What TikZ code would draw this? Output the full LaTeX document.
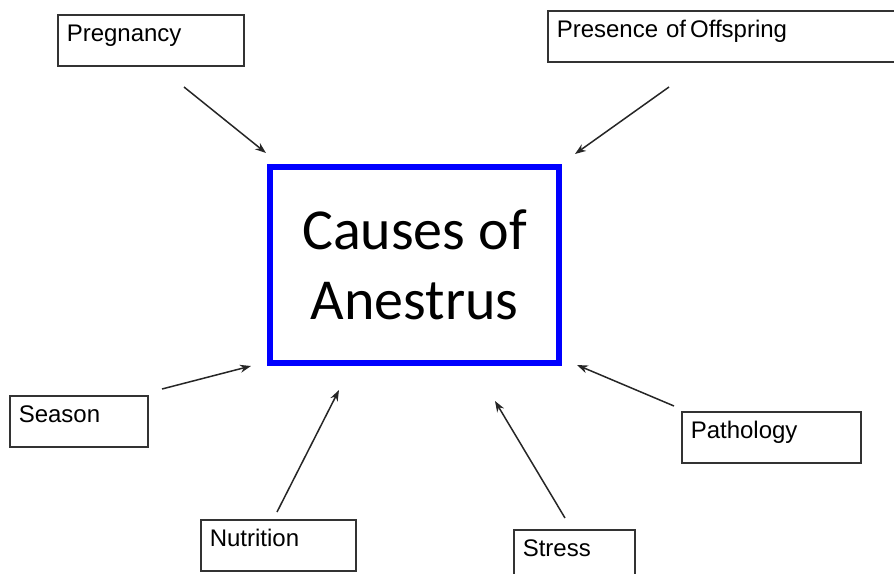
\documentclass[tikz,border=0pt]{standalone}
\usepackage{fontspec}
\setmainfont{Liberation Sans}
\newfontfamily\carlito{Carlito}
\usetikzlibrary{arrows.meta}

\begin{document}
\begin{tikzpicture}
[x=1pt,y=-1pt,
  boxDecorate/.style={draw=black!80,line width=1.5pt,anchor=north west,
    align=left,inner xsep=9pt,inner ysep=10pt,text height=17pt,
    text depth=14pt,font=\fontsize{24}{28}\selectfont},%
  mainDecorate/.style={draw=blue,line width=6pt,minimum width=289pt,
    minimum height=196pt,align=center,
    font=\carlito\fontsize{58}{70}\selectfont},%
  arrowDecorate/.style={-{Stealth[length=11pt,width=8pt]},line width=1.5pt,
    black!85}]
\useasboundingbox (0,0) rectangle (894,573);
\clip (0,0) rectangle (894,573);
%% centre box
\node (anestrus) at (414.5,265) [mainDecorate] {Causes of\\Anestrus};
%% cause boxes
\foreach \nodename/\x/\y/\w/\txt in {
  pregnancy/57/14/168/Pregnancy, offspring/547/10/342/Presence of\hspace{4pt}Offspring,
  season/9/395/120/Season, nutrition/200/519/137/Nutrition,
  stress/513/529/103/Stress, pathology/681/411/161/Pathology}
{
  \node (\nodename) at (\x,\y) [boxDecorate,text width=\w pt] {\txt};
}
%% arrow ends
\foreach \nodename/\xa/\ya/\xb/\yb in {
  pregnancy/184/87/266/153, offspring/669/87/575/154,
  season/162/389/251/366, nutrition/277/512/339/390,
  stress/565/518/495/401, pathology/674/406/577/365}
{
  \coordinate (\nodename-from) at (\xa,\ya);
  \coordinate (\nodename-to) at (\xb,\yb);
}
%% arrows
\foreach \nodename in {pregnancy, offspring, season, nutrition, stress, pathology}
{
  \draw[arrowDecorate] (\nodename-from) -- (\nodename-to);
}
\end{tikzpicture}
\end{document}
